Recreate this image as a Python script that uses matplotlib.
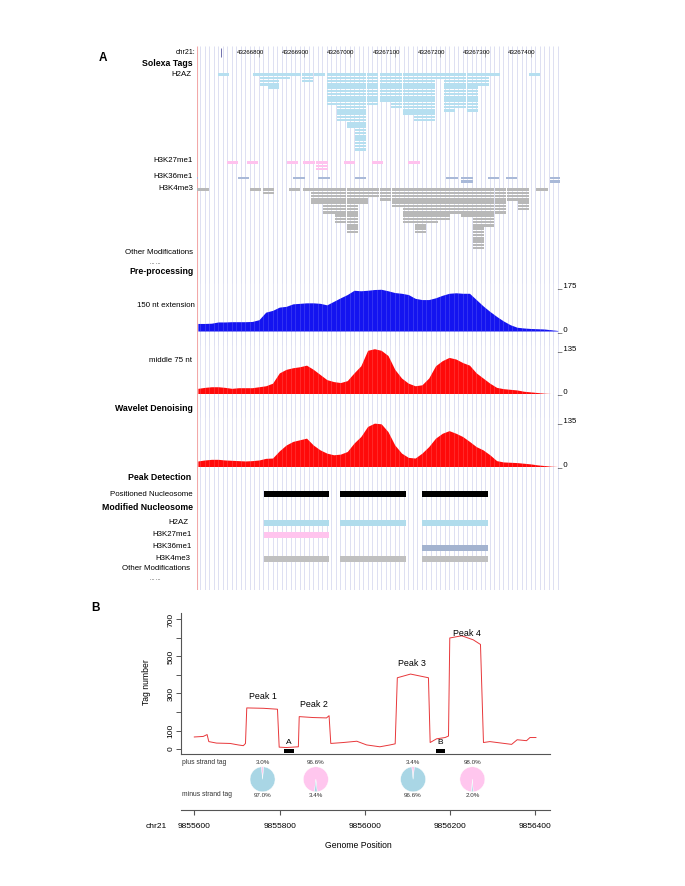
import numpy as np
import matplotlib.pyplot as plt

plt.rcParams['font.family'] = ['Liberation Sans', 'DejaVu Sans']

W, H = 685, 886

# ---------------- panel A data ----------------
a_start, a_end = 43266662, 43267465
ruler_ticks = [43266800, 43266900, 43267000, 43267100, 43267200, 43267300, 43267400]

# Solexa tags: column start positions and stack depth
h2az_starts = [43266709, 43266787, 43266802, 43266820, 43266844, 43266868, 43266895, 43266921,
               43266950, 43266972, 43266994, 43267012, 43267038, 43267067, 43267091, 43267118,
               43267142, 43267164, 43267186, 43267208, 43267233, 43267259, 43267283, 43267308,
               43267396]
h2az_depth = [1, 1, 4, 5, 2, 1, 3, 1, 10, 15, 17, 24, 10, 9, 11, 13, 15, 15, 2, 12, 11, 12, 4, 1, 1]

k27_starts = [43266729, 43266773, 43266861, 43266898, 43266927, 43266988, 43267049, 43267130]
k27_depth = [1, 1, 1, 1, 3, 1, 1, 1]

k36_starts = [43266640, 43266754, 43266876, 43266931, 43267012, 43267214, 43267247, 43267306,
              43267345, 43267442]
k36_depth = [1, 1, 1, 1, 1, 1, 2, 1, 1, 2]

k4_starts = [43266664, 43266780, 43266809, 43266866, 43266898, 43266916, 43266942, 43266968,
             43266994, 43267016, 43267041, 43267067, 43267093, 43267119, 43267144, 43267170,
             43267196, 43267222, 43267247, 43267273, 43267295, 43267321, 43267347, 43267372,
             43267413]
k4_depth = [1, 1, 2, 1, 1, 5, 8, 11, 14, 5, 3, 4, 6, 11, 14, 11, 10, 8, 9, 19, 12, 8, 4, 7, 1]

# coverage profiles sampled every 15 bp
prof_pos = np.arange(43266665, 43267470, 15)
ext150 = [30, 30, 31, 36, 36, 37, 37, 37, 38, 45, 75, 82, 95, 98, 108, 110, 112, 112, 110, 104,
          118, 132, 145, 162, 160, 162, 165, 166, 160, 153, 150, 145, 130, 125, 125, 132, 142, 150,
          152, 150, 150, 125, 100, 78, 58, 40, 25, 15, 12, 10, 9, 8, 5, 2]
mid75 = [16, 19, 21, 21, 19, 16, 18, 18, 18, 21, 24, 32, 64, 75, 80, 83, 88, 75, 59, 43,
         37, 34, 40, 64, 86, 134, 139, 134, 118, 75, 48, 32, 24, 27, 48, 86, 102, 112,
         107, 96, 88, 64, 48, 32, 19, 15, 13, 11, 7, 5, 3, 1, 0, 0]
wavelet = [17, 20, 22, 22, 20, 19, 18, 17, 18, 20, 25, 26, 48, 66, 77, 82, 87, 66, 51, 41,
           36, 38, 46, 72, 92, 123, 133, 131, 107, 66, 41, 28, 26, 41, 61, 87, 102, 110,
           102, 92, 77, 61, 51, 36, 18, 14, 13, 12, 10, 8, 5, 3, 1, 0]

nuc_start = [43266811, 43266980, 43267160]
nuc_end = [43266955, 43267124, 43267305]
mod_h2az = [1, 1, 1]
mod_k27 = [1, 0, 0]
mod_k36 = [0, 0, 1]
mod_k4 = [1, 1, 1]

# ---------------- panel B data ----------------
pos_b = [9855600, 9855621, 9855630, 9855634, 9855652, 9855684, 9855703, 9855715, 9855720,
         9855723, 9855762, 9855795, 9855799, 9855816, 9855844, 9855846, 9855879, 9855910,
         9855916, 9855920, 9855949, 9855981, 9856004, 9856035, 9856059, 9856071, 9856076,
         9856107, 9856149, 9856153, 9856168, 9856188, 9856196, 9856199, 9856227, 9856254,
         9856271, 9856278, 9856293, 9856344, 9856357, 9856379, 9856387, 9856401]
tags_b = [65, 68, 78, 40, 32, 30, 22, 18, 30, 222, 220, 215, 10, 8, 12, 175, 170, 168, 180, 30,
          35, 42, 22, 12, 22, 28, 385, 405, 385, 35, 55, 62, 70, 600, 612, 590, 565, 35, 40,
          25, 50, 45, 62, 62]
peak_names = ['Peak 1', 'Peak 2', 'Peak 3', 'Peak 4']
peak_pos = [9855760, 9855881, 9856110, 9856239]
peak_top = [282, 243, 464, 625]
link_names = ['A', 'B']
link_start = [9855811, 9856166]
link_end = [9855834, 9856188]
pie_pos = [9855760, 9855885, 9856113, 9856252]
plus_pct = [3.0, 96.6, 3.4, 98.0]
minus_pct = [97.0, 3.4, 96.6, 2.0]
xticks_b = [9855600, 9855800, 9856000, 9856200, 9856400]

fig = plt.figure(figsize=(W / 100, H / 100), dpi=100)


def px_axes(x0, y0, x1, y1):
    return fig.add_axes([x0 / W, 1 - y1 / H, (x1 - x0) / W, (y1 - y0) / H])


def label(x, y, s, ha='right', size=5.7, weight='normal'):
    fig.text(x / W, 1 - y / H, s, ha=ha, va='center', fontsize=size, fontweight=weight)


grid_pos = np.arange(43266670, a_end, 10)
grid_col = '#d8daf0'

# -------------------------
# Panel A background / tags / nucleosomes
# -------------------------
axA = px_axes(196.5, 46, 560, 590)
axA.set_xlim(a_start, a_end)
axA.set_ylim(590, 46)
axA.axis('off')
axA.vlines(grid_pos, 46, 590, color=grid_col, lw=0.6, zorder=0)
axA.vlines(a_start, 46, 590, color='#f2a8a8', lw=0.8)

for t in ruler_ticks:
    axA.text(t - 19, 53, str(t), ha='center', va='center', fontsize=4.4)
    axA.vlines(t, 49.5, 56.5, color='#777777', lw=0.4)
axA.vlines(43266716, 48, 57, color='#5a5aa0', lw=0.6)

pitch, tag_h, tag_len = 3.25, 2.5, 25


def draw_tags(starts, depths, y0, color):
    xs, ys = [], []
    for s, d in zip(starts, depths):
        for r in range(d):
            xs.append(s)
            ys.append(y0 + r * pitch - tag_h / 2)
    axA.bar(xs, tag_h, bottom=ys, width=tag_len, align='edge', color=color, lw=0, zorder=2)


draw_tags(h2az_starts, h2az_depth, 74.5, '#b6dff0')
draw_tags(k27_starts, k27_depth, 162.5, '#ffc2ee')
draw_tags(k36_starts, k36_depth, 178, '#a9b9d8')
draw_tags(k4_starts, k4_depth, 189.5, '#b8b8b8')

nuc_w = [e - s for s, e in zip(nuc_start, nuc_end)]
axA.bar(nuc_start, 6.6, bottom=490.7, width=nuc_w, align='edge', color='black', lw=0)
for flags, yc, col in [(mod_h2az, 523, '#b0dcec'), (mod_k27, 535.3, '#ffc4ee'),
                       (mod_k36, 547.5, '#a3b3cf'), (mod_k4, 559, '#c0c0c0')]:
    xs = [s for s, f in zip(nuc_start, flags) if f]
    ws = [w for w, f in zip(nuc_w, flags) if f]
    axA.bar(xs, 6, bottom=yc - 3, width=ws, align='edge', color=col, lw=0)

# -------------------------
# Coverage tracks
# -------------------------
tracks = [
    (ext150, '#1414f0', 283, 331, 175, 287),
    (mid75, '#ff0a0a', 345, 393.5, 135, 350),
    (wavelet, '#ff0a0a', 417, 466.5, 135, 422.5),
]
for vals, col, top, base, vmax, vmax_px in tracks:
    ax = px_axes(196.5, top, 560, base)
    ax.patch.set_alpha(0)
    ax.axis('off')
    ax.set_xlim(a_start, a_end)
    ytop = vmax * (base - top) / (base - vmax_px)
    ax.set_ylim(0, ytop)
    ax.fill_between(prof_pos, vals, color=col, lw=0)
    ax.vlines(grid_pos, 0, ytop, color='white', lw=0.5, alpha=0.18)
    ax.text(0.992, vmax, '_ %d' % vmax, transform=ax.get_yaxis_transform(),
            ha='left', va='baseline', fontsize=5.6, clip_on=False)
    ax.text(0.992, 0, '_ 0', transform=ax.get_yaxis_transform(),
            ha='left', va='baseline', fontsize=5.6, clip_on=False)

# -------------------------
# Panel A labels
# -------------------------
label(99, 58.3, 'A', ha='left', size=8.5, weight='bold')
label(196, 53, 'chr21:', size=5.0)
label(193, 64, 'Solexa Tags', size=6.3, weight='bold')
label(191.5, 74, 'H2AZ')
label(193, 161, 'H3K27me1')
label(193, 177, 'H3K36me1')
label(193, 188, 'H3K4me3')
label(193, 252, 'Other Modifications')
label(155, 262, '... ...', ha='center', size=4)
label(193.5, 272, 'Pre-processing', size=6.3, weight='bold')
label(195, 305.5, '150 nt extension')
label(192, 360, 'middle 75 nt')
label(193, 408, 'Wavelet Denoising', size=6.3, weight='bold')
label(191.5, 477.5, 'Peak Detection', size=6.3, weight='bold')
label(192.5, 494, 'Positioned Nucleosome')
label(193, 508, 'Modified Nucleosome', size=6.3, weight='bold')
label(188, 523, 'H2AZ')
label(191.5, 535, 'H3K27me1')
label(191.5, 547, 'H3K36me1')
label(190.5, 559, 'H3K4me3')
label(190, 569, 'Other Modifications')
label(155, 579, '... ...', ha='center', size=4)

# -------------------------
# Panel B
# -------------------------
label(91, 608, 'B', ha='left', size=8.5, weight='bold')
xl = (9855568.8, 9856434)
axB = px_axes(181, 613, 550, 754)
axB.set_xlim(*xl)
axB.set_ylim(-27, 735)
axB.plot(pos_b, tags_b, color='#e8373a', lw=0.7)
for sp in ['top', 'right']:
    axB.spines[sp].set_visible(False)
for sp in ['left', 'bottom']:
    axB.spines[sp].set_color('#555555')
    axB.spines[sp].set_linewidth(0.8)
axB.set_xticks([])
axB.set_yticks(range(0, 800, 100))
axB.set_yticklabels(['0', '100', '', '300', '', '500', '', '700'], rotation=90,
                    va='center', fontsize=6)
axB.tick_params(axis='y', length=3.4, width=0.7, color='#555555', pad=1.5)
axB.set_ylabel('Tag number', fontsize=6.2)
axB.yaxis.set_label_coords(-0.082, 0.51)
for name, x, y in zip(peak_names, peak_pos, peak_top):
    axB.text(x, y, name, ha='center', va='center', fontsize=6.4)
for name, s, e in zip(link_names, link_start, link_end):
    axB.bar(s, 20, bottom=-20, width=e - s, align='edge', color='black', lw=0)
    axB.text((s + e) / 2, 36, name, ha='center', va='center', fontsize=6)

ax_low = px_axes(181, 754, 550, 810)
ax_low.patch.set_alpha(0)
ax_low.set_xlim(*xl)
ax_low.set_ylim(0, 1)
for sp in ['top', 'right', 'left']:
    ax_low.spines[sp].set_visible(False)
ax_low.spines['bottom'].set_color('#555555')
ax_low.spines['bottom'].set_linewidth(0.8)
ax_low.set_yticks([])
ax_low.set_xticks(xticks_b)
ax_low.set_xticklabels([str(t) for t in xticks_b], fontsize=6)
ax_low.tick_params(axis='x', length=3.6, width=0.8, color='#555555', pad=5.5)
ax_low.text(0.002, 0.857, 'plus strand tag', transform=ax_low.transAxes,
            ha='left', va='center', fontsize=4.9, color='#333333')
ax_low.text(0.002, 0.28, 'minus strand tag', transform=ax_low.transAxes,
            ha='left', va='center', fontsize=4.9, color='#333333')
label(156.5, 827, 'chr21', ha='center', size=6)
label(358, 845, 'Genome Position', ha='center', size=6.2)

r = 12.5
for x, p, m in zip(pie_pos, plus_pct, minus_pct):
    ax_low.text(x, 0.857, '%.1f%%' % p, ha='center', va='center', fontsize=4.5, color='#333333')
    ax_low.text(x, 0.26, '%.1f%%' % m, ha='center', va='center', fontsize=4.5, color='#333333')
    dx, dy = ax_low.transData.transform((x, 0.548))
    axp = fig.add_axes([(dx - r) / W, (dy - r) / H, 2 * r / W, 2 * r / H])
    axp.pie([p, m], colors=['#ffc6ee', '#a9d6e5'], startangle=90 - p * 3.6 / 2,
            counterclock=True, wedgeprops=dict(linewidth=0.3, edgecolor='white'))
    axp.set_xlim(-1, 1)
    axp.set_ylim(-1, 1)
    axp.set_aspect('equal')

fig.savefig('out.png', dpi=100)
